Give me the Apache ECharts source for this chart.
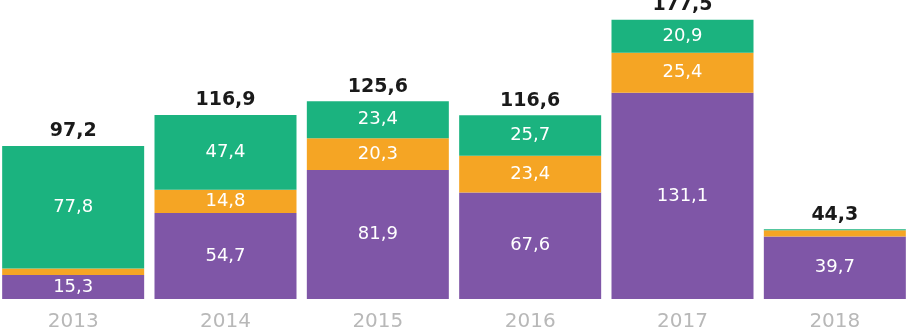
<!DOCTYPE html>
<html>
<head>
<meta charset="utf-8">
<script src="https://cdn.jsdelivr.net/npm/echarts@6/dist/echarts.min.js"></script>
<style>
  html, body { margin: 0; padding: 0; background: #ffffff; }
  #chart { width: 906px; height: 327px; }
</style>
</head>
<body>
<div id="chart"></div>
<script>
// data
var years = ['2013', '2014', '2015', '2016', '2017', '2018'];
var purple = [15.3, 54.7, 81.9, 67.6, 131.1, 39.7];
var orange = [4.1, 14.8, 20.3, 23.4, 25.4, 4.0];
var green = [77.8, 47.4, 23.4, 25.7, 20.9, 0.6];
var totals = [97.2, 116.9, 125.6, 116.6, 177.5, 44.3];

function fmt(v) {
  return v.toFixed(1).replace('.', ',');
}

var font = 'DejaVu Sans';

var innerLabel = {
  show: true,
  position: 'inside',
  color: '#ffffff',
  fontFamily: font,
  fontSize: 18,
  formatter: function (p) {
    return p.value >= 8 ? fmt(p.value) : '';
  }
};

var myChart = echarts.init(document.getElementById('chart'));

var option = {
  backgroundColor: '#ffffff',
  animation: false,
  grid: {
    left: -3, width: 914, top: 0, bottom: 28,
    containLabel: false,
    outerBoundsMode: 'none'
  },
  xAxis: {
    type: 'category',
    data: years,
    axisLine: { show: false },
    axisTick: { show: false },
    axisLabel: {
      color: '#b8b8b8',
      fontFamily: font,
      fontSize: 20,
      margin: 13
    }
  },
  yAxis: {
    type: 'value',
    min: 0,
    max: 190,
    show: false,
    splitLine: { show: false }
  },
  series: [
    {
      name: 'purple',
      type: 'bar',
      stack: 'total',
      barWidth: 142,
      data: purple,
      itemStyle: { color: '#7f56a7' },
      label: innerLabel
    },
    {
      name: 'orange',
      type: 'bar',
      stack: 'total',
      data: orange,
      itemStyle: { color: '#f5a524' },
      label: innerLabel
    },
    {
      name: 'green',
      type: 'bar',
      stack: 'total',
      data: green,
      itemStyle: { color: '#1bb37f' },
      label: innerLabel
    },
    // totals above each bar
    {
      name: 'total',
      type: 'bar',
      stack: 'total',
      data: years.map(function () { return 0; }),
      itemStyle: { color: 'transparent' },
      label: {
        show: true,
        position: 'top',
        distance: 5,
        color: '#1a1a1a',
        fontFamily: font,
        fontWeight: 'bold',
        fontSize: 19,
        formatter: function (p) {
          return fmt(totals[p.dataIndex]);
        }
      }
    }
  ]
};

myChart.setOption(option);
</script>
</body>
</html>
